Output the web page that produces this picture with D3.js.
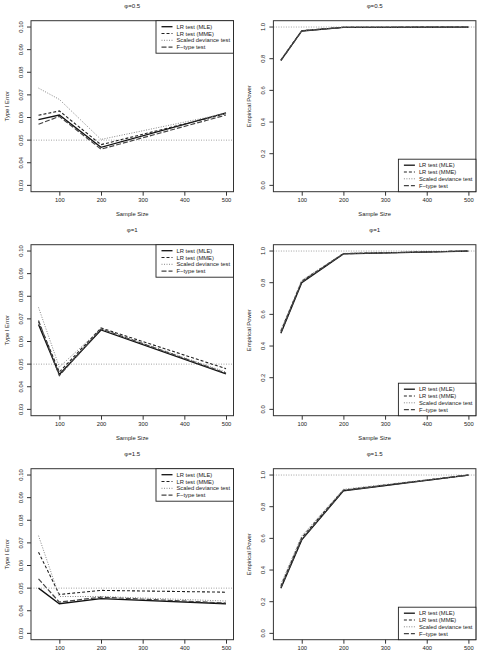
<!DOCTYPE html>
<html>
<head>
<meta charset="utf-8">
<script src="https://cdn.jsdelivr.net/npm/d3@7"></script>
<style>
  body { margin: 0; background: #fff; }
  text { font-family: "Liberation Sans", Arial, sans-serif; fill: #222; }
</style>
</head>
<body>
<svg id="fig" width="479" height="658"></svg>
<script>
// sample sizes and test names
const sampleSizes = [50, 100, 200, 500];
const testNames = ["LR test (MLE)", "LR test (MME)", "Scaled deviance test", "F\u2212type test"];
const phiLabels = ["\u03c6=0.5", "\u03c6=1", "\u03c6=1.5"];

// type I error, one row per test (MLE, MME, scaled deviance, F-type)
const typeIPhi05 = [
  [0.0591, 0.0611, 0.0468, 0.0620],
  [0.0610, 0.0629, 0.0480, 0.0617],
  [0.0730, 0.0680, 0.0503, 0.0618],
  [0.0570, 0.0605, 0.0460, 0.0611]
];
const typeIPhi1 = [
  [0.0675, 0.0454, 0.0651, 0.0457],
  [0.0688, 0.0465, 0.0660, 0.0480],
  [0.0751, 0.0487, 0.0656, 0.0465],
  [0.0693, 0.0449, 0.0656, 0.0460]
];
const typeIPhi15 = [
  [0.0500, 0.0431, 0.0454, 0.0431],
  [0.0659, 0.0472, 0.0490, 0.0482],
  [0.0732, 0.0463, 0.0463, 0.0443],
  [0.0541, 0.0438, 0.0460, 0.0434]
];

// empirical power, same row order
const powerPhi05 = [
  [0.790, 0.975, 0.998, 1.0],
  [0.792, 0.977, 0.998, 1.0],
  [0.795, 0.978, 0.999, 1.0],
  [0.788, 0.975, 0.998, 1.0]
];
const powerPhi1 = [
  [0.480, 0.800, 0.982, 1.0],
  [0.495, 0.810, 0.984, 1.0],
  [0.500, 0.815, 0.985, 1.0],
  [0.485, 0.805, 0.983, 1.0]
];
const powerPhi15 = [
  [0.285, 0.590, 0.900, 1.0],
  [0.300, 0.605, 0.905, 1.0],
  [0.310, 0.615, 0.910, 1.0],
  [0.290, 0.595, 0.902, 1.0]
];

const xTicks = [100, 200, 300, 400, 500];
const typeITicks = [0.03, 0.04, 0.05, 0.06, 0.07, 0.08, 0.09, 0.10];
const powerTicks = [0.0, 0.2, 0.4, 0.6, 0.8, 1.0];

const lineStyles = [
  {color: "#111", dash: null, width: 1.3},
  {color: "#222", dash: "3,2", width: 1.1},
  {color: "#888", dash: "1,1.5", width: 1.0},
  {color: "#444", dash: "5,2", width: 1.2}
];

const svg = d3.select("#fig");
const colStep = 242.4, rowStep = 224;
const boxLeft = 31, boxTop = 20.7, boxW = 202.5, boxH = 171;
const fs = 5.8;
const figHeight = +svg.attr("height");

function panel(row, col, data, yTicks, yMin, yMax, refLine, yTitle, legendPos) {
  const ox = col * colStep, oy = row * rowStep;
  const g = svg.append("g").attr("transform", `translate(${ox},${oy})`);

  const padX = (500 - 50) * 0.04, padY = (yMax - yMin) * 0.04;
  const x = d3.scaleLinear().domain([50 - padX, 500 + padX]).range([boxLeft, boxLeft + boxW]);
  const y = d3.scaleLinear().domain([yMin - padY, yMax + padY]).range([boxTop + boxH, boxTop]);

  // reference line
  g.append("line")
    .attr("x1", boxLeft).attr("x2", boxLeft + boxW)
    .attr("y1", y(refLine)).attr("y2", y(refLine))
    .attr("stroke", "#999").attr("stroke-width", 0.9).attr("stroke-dasharray", "1,1.5");

  const lineGen = d3.line().x((d, i) => x(sampleSizes[i])).y(d => y(d));
  data.forEach((vals, k) => {
    const st = lineStyles[k];
    g.append("path")
      .attr("d", lineGen(vals))
      .attr("fill", "none")
      .attr("stroke", st.color)
      .attr("stroke-width", st.width)
      .attr("stroke-dasharray", st.dash);
  });

  // axes
  const bottomAxis = d3.axisBottom(x).tickValues(xTicks).tickSize(4).tickPadding(2).tickSizeOuter(0);
  const ax = g.append("g").attr("transform", `translate(0,${boxTop + boxH})`).call(bottomAxis);
  ax.select(".domain").remove();
  ax.selectAll("line").attr("stroke", "#333");
  ax.selectAll("text").attr("font-size", fs).attr("fill", "#222")
    .style("font-family", "'Liberation Sans', Arial, sans-serif");

  const fmt = yMax < 0.5 ? d3.format(".2f") : d3.format(".1f");
  const ay = g.append("g");
  ay.selectAll("line").data(yTicks).join("line")
    .attr("x1", boxLeft - 4).attr("x2", boxLeft)
    .attr("y1", d => y(d)).attr("y2", d => y(d))
    .attr("stroke", "#333");
  ay.selectAll("text").data(yTicks).join("text")
    .attr("transform", d => `translate(${boxLeft - 8.5},${y(d)}) rotate(-90)`)
    .attr("text-anchor", "middle")
    .attr("font-size", fs)
    .text(d => fmt(d));

  // frame
  g.append("rect")
    .attr("x", boxLeft).attr("y", boxTop).attr("width", boxW).attr("height", boxH)
    .attr("fill", "none").attr("stroke", "#333").attr("stroke-width", 1);

  // titles
  g.append("text").attr("x", boxLeft + boxW / 2).attr("y", 8)
    .attr("text-anchor", "middle").attr("font-size", fs + 0.3).text(phiLabels[row]);
  // the bottom row's x title falls below the page, as in the original
  if (oy + 215.5 < figHeight) {
    g.append("text").attr("x", boxLeft + boxW / 2).attr("y", 215.5)
      .attr("text-anchor", "middle").attr("font-size", fs).text("Sample Size");
  }
  g.append("text")
    .attr("transform", `translate(9,${boxTop + boxH / 2}) rotate(-90)`)
    .attr("text-anchor", "middle").attr("font-size", fs).text(yTitle);

  // legend
  const lw = 77.5, lh = 32.5, step = 6.8;
  const lx = boxLeft + boxW - lw;
  const ly = legendPos === "top" ? boxTop : boxTop + boxH - lh;
  const lg = g.append("g").attr("transform", `translate(${lx},${ly})`);
  lg.append("rect").attr("width", lw).attr("height", lh)
    .attr("fill", "#fff").attr("stroke", "#222").attr("stroke-width", 0.9);
  testNames.forEach((name, k) => {
    const st = lineStyles[k];
    const yy = 6 + k * step;
    lg.append("line").attr("x1", 5.5).attr("x2", 16.5).attr("y1", yy).attr("y2", yy)
      .attr("stroke", st.color).attr("stroke-width", st.width)
      .attr("stroke-dasharray", st.dash);
    lg.append("text").attr("x", 20.5).attr("y", yy + 2.1)
      .attr("font-size", fs).text(name);
  });
}

const typeIData = [typeIPhi05, typeIPhi1, typeIPhi15];
const powerData = [powerPhi05, powerPhi1, powerPhi15];
for (let r = 0; r < 3; r++) {
  panel(r, 0, typeIData[r], typeITicks, 0.03, 0.10, 0.05, "Type I Error", "top");
  panel(r, 1, powerData[r], powerTicks, 0.0, 1.0, 1.0, "Empirical Power", "bottom");
}
</script>
</body>
</html>
